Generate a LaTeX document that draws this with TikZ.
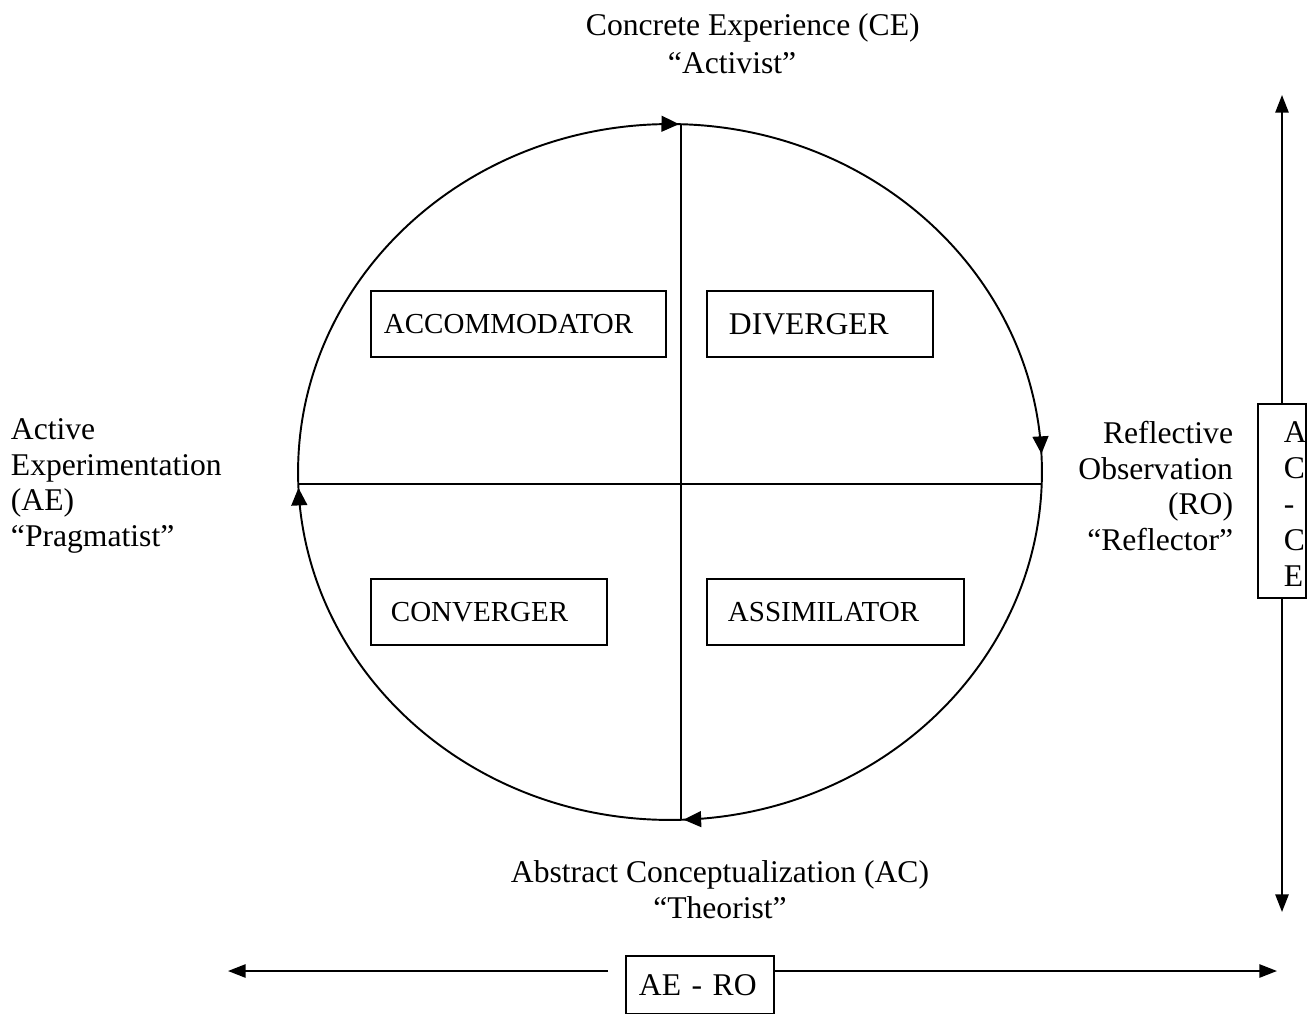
\documentclass[tikz,border=0pt]{standalone}
\usepackage{fontspec}
\setmainfont{Liberation Serif}
\usetikzlibrary{arrows.meta,decorations.markings}

\begin{document}
\begin{tikzpicture}[x=0.02cm, y=-0.02cm, line width=1.1pt,
  every node/.style={font=\fontsize{18}{20.4}\selectfont},
  quad/.style={draw, anchor=north west, minimum height=1.32cm, inner ysep=0pt, align=left, text width=#1},
  axisline/.style={-{Triangle[length=10pt,width=7.5pt]}},
  cyclearrows/.style={postaction={decorate}, decoration={markings,
    mark=at position 0.008 with {\arrowreversed{Triangle[length=10pt,width=9pt]}},
    mark=at position 0.246 with {\arrowreversed{Triangle[length=10pt,width=9pt]}},
    mark=at position 0.507 with {\arrowreversed{Triangle[length=10pt,width=9pt]}},
    mark=at position 0.756 with {\arrowreversed{Triangle[length=10pt,width=9pt]}}}}]
\useasboundingbox (0,0) rectangle (1309,1014);

% learning cycle
\draw[cyclearrows] (670,472) ellipse [x radius=7.44cm, y radius=6.96cm];
\draw (681,124) -- (681,820);
\draw (298,484) -- (1042,484);

% styles in the quadrants
\node (acc) at (370,290) [quad=5.38cm, inner xsep=0.26cm, font=\fontsize{16.5}{19}\selectfont] {ACCOMMODATOR};
\node (div) at (706,290) [quad=3.64cm, inner xsep=0.44cm] {DIVERGER};
\node (con) at (370,578) [quad=3.92cm, inner xsep=0.4cm, font=\fontsize{16.5}{19}\selectfont] {CONVERGER};
\node (ass) at (706,578) [quad=4.30cm, inner xsep=0.42cm, font=\fontsize{16.5}{19}\selectfont] {ASSIMILATOR};

% stages
\node (ce) at (585,28) [anchor=west, inner sep=0pt] {Concrete Experience (CE)};
\node (act) at (667,63) [anchor=west, inner sep=0pt] {“Activist”};
\node (ro) at (1234,486) [anchor=east, inner sep=0pt, align=right] {Reflective\\Observation\\(RO)\\“Reflector”};
\node (ac) at (720,890) [inner sep=0pt, align=center] {Abstract Conceptualization (AC)\\“Theorist”};
\node (ae) at (10,486) [anchor=west, inner sep=0pt, align=left] {Active\\Experimentation\\(AE)\\“Pragmatist”};

% axes
\node (acce) at (1282,501) [draw, minimum width=0.96cm, minimum height=3.88cm, inner sep=0pt] {};
\node (acceText) at (1283,504) [anchor=west, inner sep=0pt, align=left] {A\\C\\-\\C\\E};
\coordinate (ceTop) at (1282,95);
\coordinate (ceBot) at (1282,912);
\draw[axisline] (acce.north) -- (ceTop);
\draw[axisline] (acce.south) -- (ceBot);

\node (aero) at (625,955) [quad=2.44cm, inner xsep=0.26cm, minimum height=1.16cm] {AE - RO};
\coordinate (aeLeft) at (228,971);
\coordinate (roRight) at (1277,971);
\draw[axisline, shorten <=0.34cm] (aero.west |- aeLeft) -- (aeLeft);
\draw[axisline] (aero.east |- roRight) -- (roRight);
\end{tikzpicture}
\end{document}
